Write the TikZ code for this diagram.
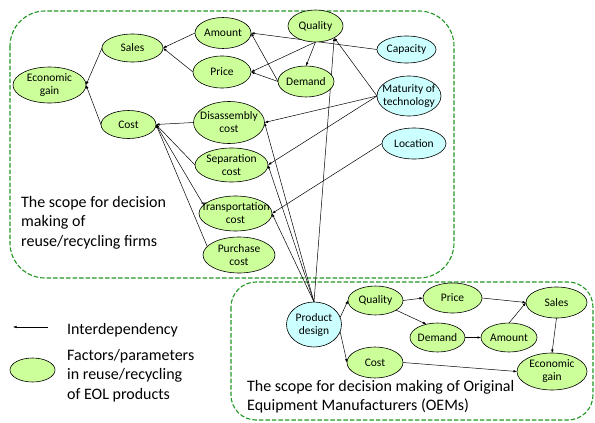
\documentclass[tikz,border=0pt]{standalone}
\usepackage{fontspec}
\setmainfont{Carlito}
\usetikzlibrary{shapes.geometric,arrows.meta,backgrounds}
\definecolor{gfill}{RGB}{204,255,153}
\definecolor{bfill}{RGB}{204,255,255}
\definecolor{scopecol}{RGB}{34,150,34}
\begin{document}
\begin{tikzpicture}[x=1pt,y=-1pt,
  fac/.style={ellipse,draw=black,line width=0.6pt,fill=gfill,inner sep=0pt,outer sep=0pt},
  ext/.style={fac,fill=bfill},
  lbl/.style={font=\fontsize{11.5}{13}\selectfont,align=center,inner sep=0pt},
  arr/.style={-{Latex[length=3.5pt,width=2.6pt]},line width=0.5pt},
  scopebox/.style={draw=scopecol,dash pattern=on 4.5pt off 2pt,line width=1.1pt,rounded corners=#1},
  big/.style={font=\fontsize{16}{19.5}\selectfont,align=left,inner sep=0pt}]
\useasboundingbox (0,0) rectangle (595,423);
% top nodes
\node[fac,minimum width=73pt,minimum height=36pt,label={[lbl]center:Economic\\gain}] (eg1) at (49.5,85) {};
\node[fac,minimum width=61pt,minimum height=28pt,label={[lbl]center:Sales}] (sales1) at (132.5,48) {};
\node[fac,minimum width=56pt,minimum height=31pt,label={[lbl]center:Amount}] (amount1) at (223,33) {};
\node[fac,minimum width=58pt,minimum height=32pt,label={[lbl]center:Price}] (price1) at (222,72) {};
\node[fac,minimum width=55pt,minimum height=32pt,label={[lbl]center:Quality}] (quality1) at (315.5,26) {};
\node[fac,minimum width=56pt,minimum height=31pt,label={[lbl]center:Demand}] (demand1) at (306,81.5) {};
\node[ext,minimum width=59pt,minimum height=27pt,label={[lbl]center:Capacity}] (capacity) at (406.5,49.5) {};
\node[ext,minimum width=64pt,minimum height=40pt,label={[lbl]center:Maturity of\\technology}] (maturity) at (409,96) {};
\node[ext,minimum width=64pt,minimum height=31pt,label={[lbl]center:Location}] (location) at (414,143.5) {};
\node[fac,minimum width=55pt,minimum height=28pt,label={[lbl]center:Cost}] (cost1) at (128.5,124.5) {};
\node[fac,minimum width=71pt,minimum height=42pt,label={[lbl]center:Disassembly\\cost}] (disas) at (229,122.5) {};
\node[fac,minimum width=73pt,minimum height=34pt,label={[lbl]center:Separation\\cost}] (separ) at (231.5,165) {};
\node[fac,minimum width=73pt,minimum height=35pt,label={[lbl]center:Transportation\\cost}] (transp) at (235.5,213.5) {};
\node[fac,minimum width=72pt,minimum height=36pt,label={[lbl]center:Purchase\\cost}] (purch) at (239,255) {};
% bottom nodes
\node[ext,minimum width=55pt,minimum height=45pt,label={[lbl]center:Product\\design}] (pd) at (314,324.5) {};
\node[fac,minimum width=55pt,minimum height=29pt,label={[lbl]center:Quality}] (quality2) at (375.5,300.5) {};
\node[fac,minimum width=56pt,minimum height=31pt,label={[lbl]center:Cost}] (cost2) at (375,362.5) {};
\node[fac,minimum width=59pt,minimum height=30pt,label={[lbl]center:Price}] (price2) at (452.5,298) {};
\node[fac,minimum width=55pt,minimum height=29pt,label={[lbl]center:Demand}] (demand2) at (437.5,337.5) {};
\node[fac,minimum width=56pt,minimum height=29pt,label={[lbl]center:Amount}] (amount2) at (509,337.5) {};
\node[fac,minimum width=61pt,minimum height=31pt,label={[lbl]center:Sales}] (sales2) at (556.5,302.5) {};
\node[fac,minimum width=70pt,minimum height=37pt,label={[lbl]center:Economic\\gain}] (eg2) at (552,371.5) {};
\begin{pgfonlayer}{background}
% scope boxes
\draw[scopebox=35pt] (10,11) rectangle (454,278);
\draw[scopebox=25pt] (231,282) rectangle (593,420);
% top edges
\draw[arr] (sales1.west) -- (eg1.east);
\draw[arr] (cost1.west) -- (eg1.east);
\draw[arr] (amount1.west) -- (sales1.east);
\draw[arr] (price1.west) -- (sales1.east);
\draw[arr] (capacity.west) -- (amount1.east);
\draw[arr] (demand1.west) -- (amount1.east);
\draw[arr] (demand1.west) -- (price1.east);
\draw[arr] (quality1.south) -- (price1.east);
\draw[arr] (quality1.south) -- (demand1.north);
\draw[arr] (maturity.west) -- (quality1.-32);
\draw[arr] (pd.north) -- (quality1.-32);
\draw[arr] (maturity.west) -- (disas.east);
\draw[arr] (maturity.west) -- (separ.east);
\draw[arr] (location.west) -- (transp.east);
\draw[arr] (pd.north) -- (disas.east);
\draw[arr] (pd.north) -- (separ.east);
\draw[arr] (pd.north) -- (transp.east);
\draw[arr] (disas.west) -- (cost1.east);
\draw[arr] (separ.west) -- (cost1.east);
\draw[arr] (transp.165) -- (cost1.east);
\draw[arr] (purch.165) -- (cost1.east);
% bottom edges
\draw[arr] (pd.15) -- (quality2.west);
\draw[arr] (pd.-15) -- (cost2.west);
\draw[arr] (quality2.east) -- (price2.west);
\draw[arr] (quality2.-25) -- (demand2.130);
\draw[arr] (price2.east) -- (sales2.west);
\draw[arr] (amount2.north) -- (sales2.west);
\draw[arr] (demand2.east) -- (amount2.west);
\draw[arr] (sales2.south) -- (eg2.north);
\draw[arr] (cost2.east) -- (eg2.west);
\end{pgfonlayer}
% texts
\node[big,anchor=north west] (scope1) at (21,196) {The scope for decision\\making of\\reuse/recycling firms};
\node[big,anchor=north west] (scope2) at (247,380) {The scope for decision making of Original\\Equipment Manufacturers (OEMs)};
% legend
\coordinate (legA) at (48,327);
\coordinate (legB) at (13,327);
\draw[arr] (legA) -- (legB);
\node[big,anchor=base west] (legt1) at (67,334) {Interdependency};
\node[fac,minimum width=45pt,minimum height=24pt] (legell) at (32.5,370) {};
\node[big,anchor=north west] (legt2) at (67,349) {Factors/parameters\\in reuse/recycling\\of EOL products};
\end{tikzpicture}
\end{document}
